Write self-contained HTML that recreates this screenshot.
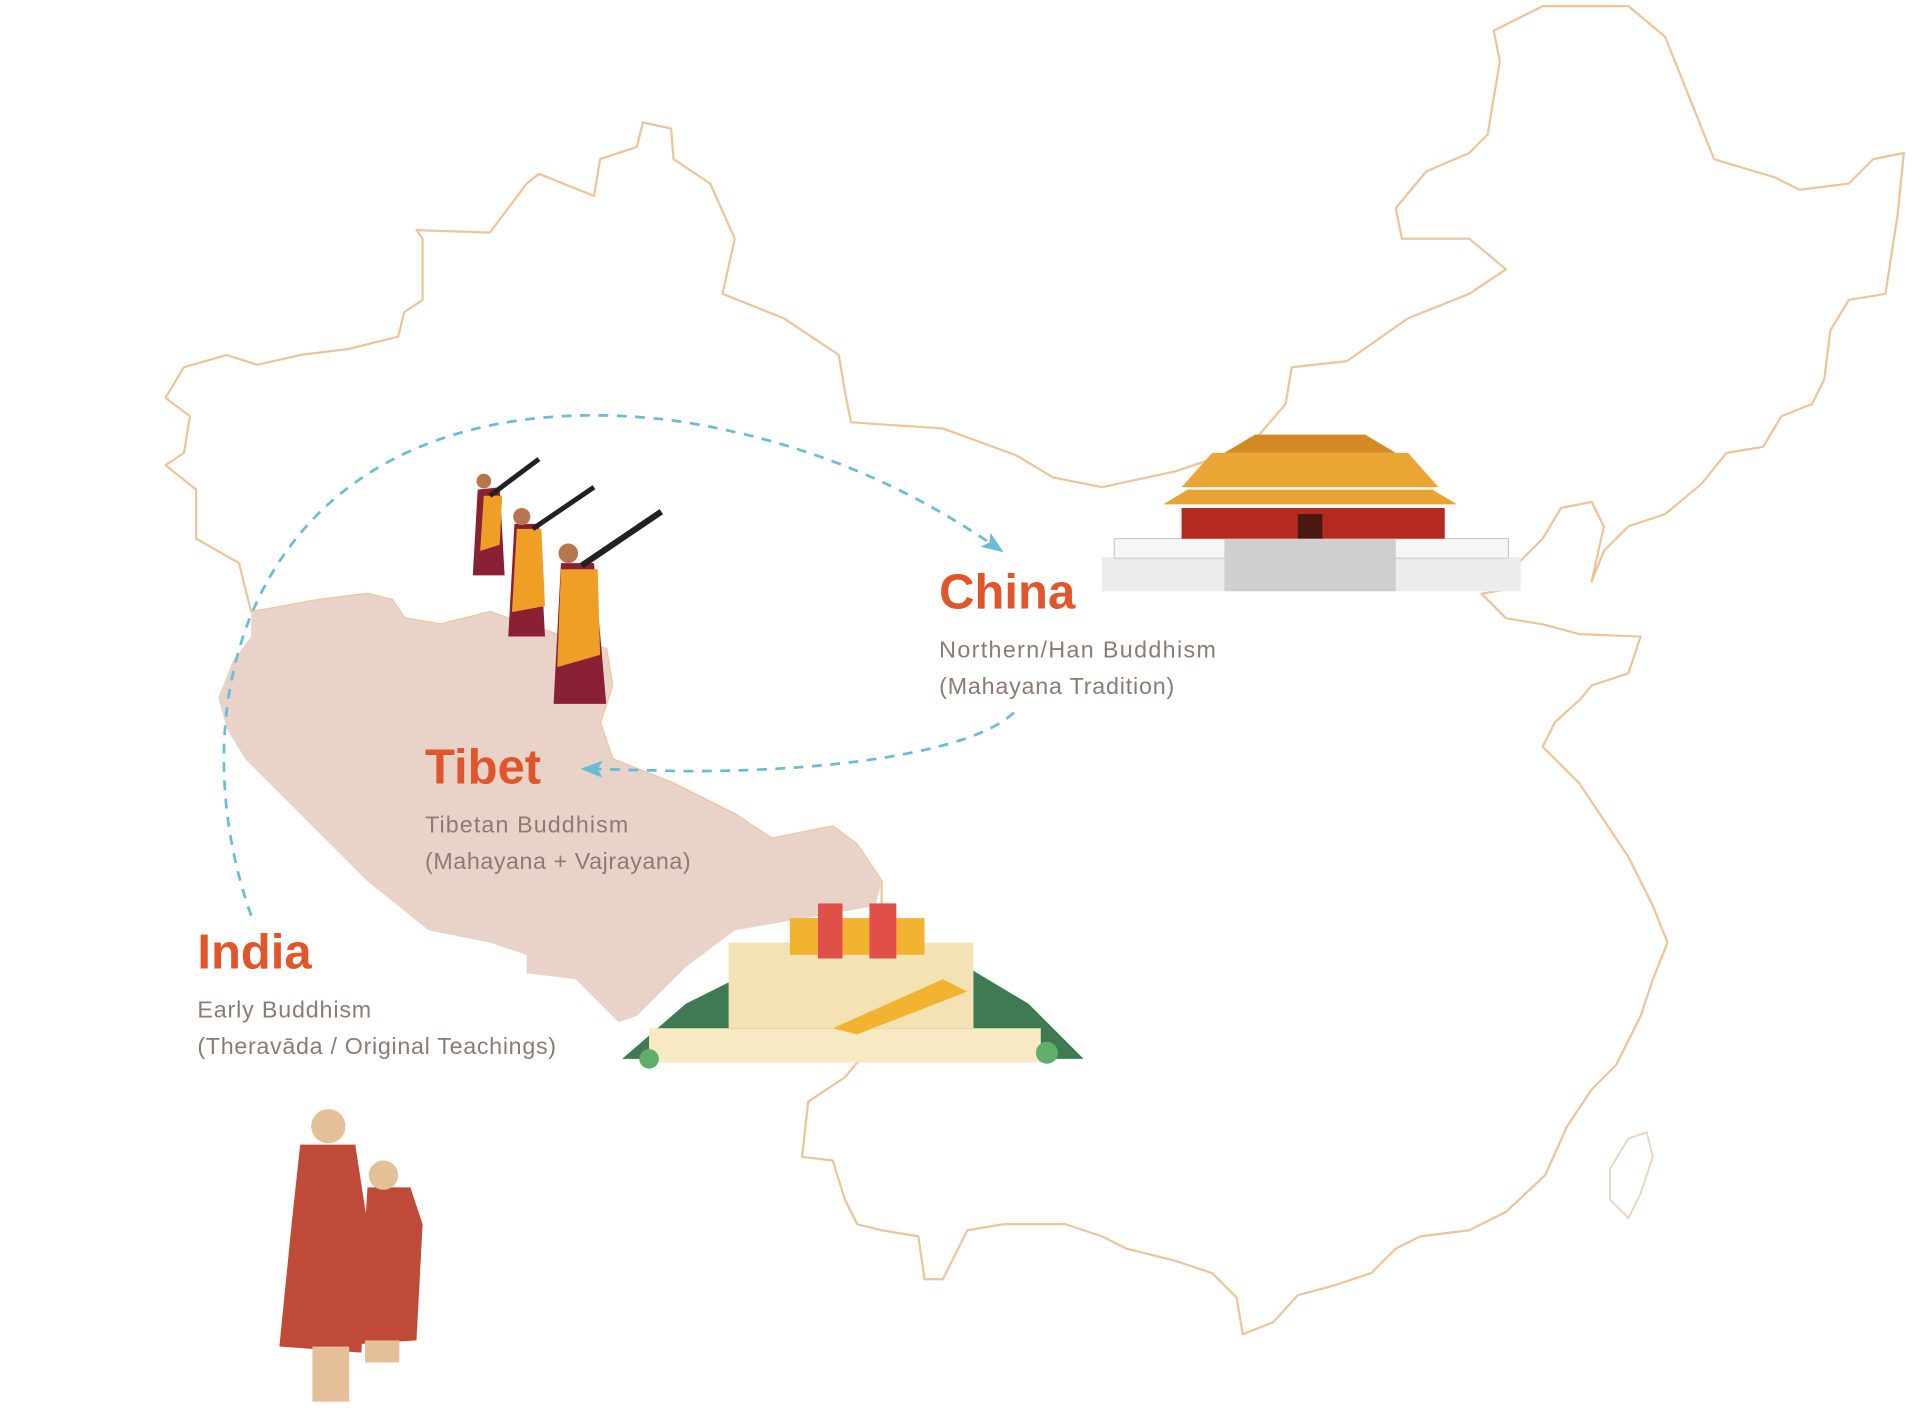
<!DOCTYPE html>
<html><head><meta charset="utf-8"><style>
html,body{margin:0;padding:0;background:#fff;}
svg{display:block;}
text{font-family:"Liberation Sans",sans-serif;}
</style></head><body>
<svg width="1920" height="1420" viewBox="0 0 1568 1160" xmlns="http://www.w3.org/2000/svg">
<rect width="1568" height="1160" fill="#fff"/>
<path fill="none" stroke="#ecc49c" stroke-width="1.8" stroke-linejoin="round" d="M135,325 L150,300 L185,290 L210,298 L245,290 L285,285 L325,275 L330,255 L345,245 L345,195 L340,188 L400,190 L430,150 L440,142 L485,160 L490,130 L520,120 L525,100 L548,105 L550,130 L580,150 L600,195 L590,240 L640,260 L685,290 L690,320 L695,345 L770,350 L830,372 L860,390 L900,398 L960,385 L1020,365 L1050,330 L1055,300 L1100,295 L1150,260 L1200,240 L1230,220 L1200,195 L1145,195 L1140,170 L1165,140 L1200,125 L1215,110 L1220,80 L1225,50 L1220,25 L1260,5 L1330,5 L1360,30 L1380,80 L1400,130 L1450,145 L1470,155 L1510,150 L1530,130 L1555,125 L1550,175 L1540,240 L1510,245 L1495,270 L1490,310 L1480,330 L1455,340 L1440,365 L1410,370 L1390,395 L1360,420 L1330,430 L1310,450 L1300,475 L1310,430 L1300,410 L1275,415 L1260,440 L1240,460 L1240,480 L1210,485 L1230,505 L1260,510 L1290,518 L1340,520 L1330,550 L1300,560 L1290,572 L1270,590 L1260,610 L1290,640 L1310,670 L1330,700 L1350,740 L1362,770 L1350,800 L1340,830 L1320,870 L1300,890 L1280,920 L1262,960 L1230,990 L1200,1005 L1160,1010 L1140,1020 L1120,1040 L1090,1050 L1060,1058 L1040,1080 L1015,1090 L1010,1060 L990,1040 L960,1030 L920,1020 L900,1010 L870,1000 L820,1000 L790,1005 L770,1045 L755,1045 L750,1010 L720,1005 L700,1000 L690,980 L680,948 L655,945 L660,900 L690,880 L700,868 L760,850 L800,820 L760,800 L720,740 L720,720 L700,690 L680,675 L630,685 L600,665 L550,640 L500,620 L490,590 L500,560 L495,530 L460,520 L430,510 L400,500 L360,510 L330,505 L320,490 L300,485 L260,490 L205,500 L195,460 L160,440 L160,400 L135,380 L150,370 L155,340 Z"/>
<path fill="none" stroke="#ecd2c0" stroke-width="1.5" d="M1330,930 L1345,925 L1350,945 L1340,975 L1330,995 L1315,980 L1315,955 Z"/>
<path fill="#e9d3c8" d="M205,500 L260,490 L300,485 L320,490 L330,505 L360,510 L400,500 L430,510 L460,520 L495,530 L500,560 L490,590 L500,620 L550,640 L600,665 L630,685 L680,675 L700,690 L720,720 L715,740 L600,760 L560,790 L520,830 L505,835 L470,800 L430,795 L430,780 L400,770 L350,760 L300,720 L270,690 L230,650 L200,620 L185,595 L178,570 L190,540 L205,520 Z"/>
<defs>
<marker id="ah2" markerWidth="20" markerHeight="14" refX="16" refY="7" orient="auto" markerUnits="userSpaceOnUse"><path d="M0,0 L18,7 L0,14 L4,7 Z" fill="#6bbad6"/></marker></defs>
<path d="M205,748 C170,650 170,520 250,430 C330,340 460,330 560,345 C680,365 760,410 818,450" fill="none" stroke="#6bbad6" stroke-width="2.2" stroke-dasharray="8,7" marker-end="url(#ah2)"/>
<path d="M828,582 C800,610 700,630 560,630 L476,628" fill="none" stroke="#6bbad6" stroke-width="2.2" stroke-dasharray="8,7" marker-end="url(#ah2)"/>
<text x="767" y="497" font-size="40" font-weight="bold" fill="#e0562a">China</text>
<text x="767" y="537" font-size="19" fill="#8b7b72" textLength="226">Northern/Han Buddhism</text>
<text x="767" y="567" font-size="19" fill="#8b7b72" textLength="192">(Mahayana Tradition)</text>
<text x="347" y="640" font-size="40" font-weight="bold" fill="#e0562a">Tibet</text>
<text x="347" y="680" font-size="19" fill="#8b7b72" textLength="166">Tibetan Buddhism</text>
<text x="347" y="710" font-size="19" fill="#8b7b72" textLength="217">(Mahayana + Vajrayana)</text>
<text x="161" y="791" font-size="40" font-weight="bold" fill="#e0562a">India</text>
<text x="161" y="831" font-size="19" fill="#8b7b72" textLength="142">Early Buddhism</text>
<text x="161" y="861" font-size="19" fill="#8b7b72" textLength="293">(Theravāda / Original Teachings)</text>
<g>
<rect x="900" y="455" width="342" height="28" fill="#ececec"/>
<rect x="910" y="440" width="322" height="16" fill="#f6f6f6" stroke="#ccc"/>
<rect x="1000" y="440" width="140" height="43" fill="#cfcfcf"/>
<rect x="965" y="415" width="215" height="25" fill="#b52a20"/>
<path d="M950,412 L1190,412 L1170,400 L970,400 Z" fill="#e8a332"/>
<path d="M965,398 L1175,398 L1150,370 L990,370 Z" fill="#eaa634"/>
<path d="M1000,370 L1140,370 L1115,355 L1025,355 Z" fill="#d48a22"/>
<rect x="1060" y="420" width="20" height="20" fill="#4a1810"/>
</g>
<g>
<path d="M508,865 L560,820 L620,790 L700,780 L790,790 L840,820 L885,865 Z" fill="#3f7a52"/>
<rect x="530" y="840" width="320" height="28" fill="#f6e9c4"/>
<rect x="595" y="770" width="200" height="70" fill="#f3e3b4"/>
<rect x="645" y="750" width="110" height="30" fill="#f2b330"/>
<rect x="668" y="738" width="20" height="45" fill="#e05048"/>
<rect x="710" y="738" width="22" height="45" fill="#e05048"/>
<path d="M680,840 L770,800 L790,810 L700,845 Z" fill="#f2b330"/>
<circle cx="530" cy="865" r="8" fill="#5fae6a"/><circle cx="855" cy="860" r="9" fill="#5fae6a"/>
</g>
<g>
<path d="M390,400 L408,398 L412,470 L386,470 Z" fill="#8a2034"/><path d="M395,405 L410,405 L408,445 L392,450 Z" fill="#ef9f25"/>
<circle cx="395" cy="393" r="6" fill="#b5764c"/><line x1="400" y1="405" x2="440" y2="375" stroke="#222" stroke-width="4"/>
<path d="M420,428 L440,428 L445,520 L415,520 Z" fill="#8a2034"/><path d="M422,432 L442,432 L445,495 L418,500 Z" fill="#ef9f25"/>
<circle cx="426" cy="422" r="7" fill="#b5764c"/><line x1="435" y1="432" x2="485" y2="398" stroke="#222" stroke-width="4"/>
<path d="M458,460 L485,460 L495,575 L452,575 Z" fill="#8a2034"/><path d="M458,465 L488,465 L490,535 L455,545 Z" fill="#ef9f25"/>
<circle cx="464" cy="452" r="8" fill="#b5764c"/><line x1="475" y1="462" x2="540" y2="418" stroke="#222" stroke-width="5"/>
</g>
<g>
<path d="M245,935 L290,935 L300,1000 L295,1105 L228,1100 L238,1000 Z" fill="#c04a38"/>
<circle cx="268" cy="920" r="14" fill="#e4bf98"/>
<path d="M300,970 L335,970 L345,1000 L340,1095 L292,1098 Z" fill="#c04a38"/>
<circle cx="313" cy="960" r="12" fill="#e4bf98"/>
<rect x="255" y="1100" width="30" height="45" fill="#e4bf98"/><rect x="298" y="1095" width="28" height="18" fill="#e4bf98"/>
</g>
</svg>
</body></html>
